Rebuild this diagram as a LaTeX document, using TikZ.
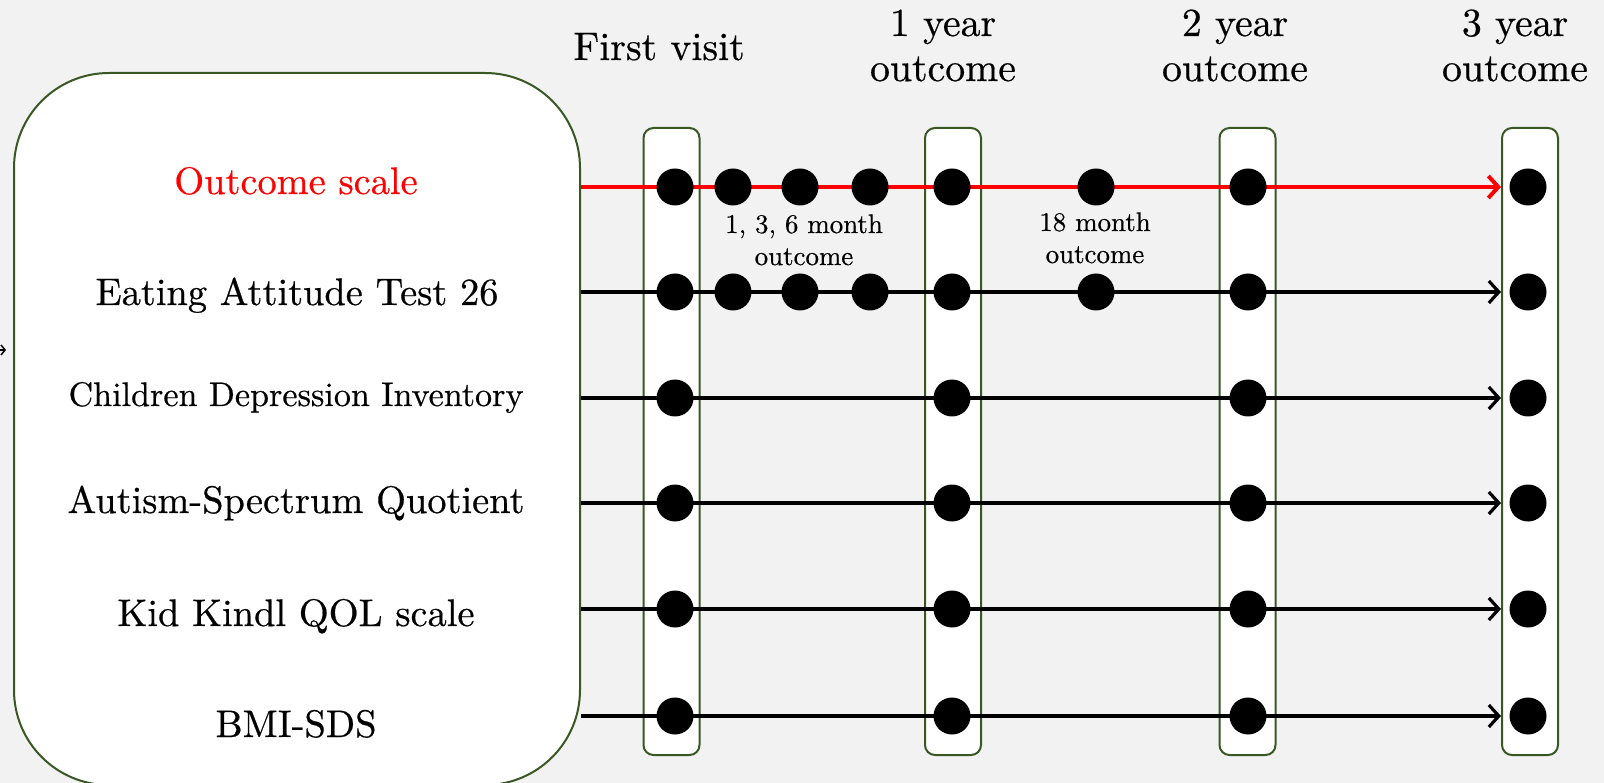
\documentclass[tikz,border=0pt]{standalone}
\usepackage{fontspec}
\setmainfont{lmroman10-regular.otf}[FakeBold=0.5]
\usetikzlibrary{arrows.meta}
\definecolor{bggray}{HTML}{F2F2F2}
\definecolor{boxgreen}{HTML}{385723}
\begin{document}
\begin{tikzpicture}[x=1pt,y=-1pt,
  bigbox/.style={draw=boxgreen,line width=2pt,fill=white,rounded corners=95pt,inner sep=0pt},
  colbox/.style={draw=boxgreen,line width=2pt,fill=white,rounded corners=10pt,inner sep=0pt,minimum width=56pt,minimum height=627pt},
  dot/.style={circle,fill=black,inner sep=0pt,minimum size=37pt},
  conn/.style={line width=3.2pt,-{Straight Barb[length=10pt,width=22pt]}},
  redconn/.style={line width=4pt,red,-{Straight Barb[length=10pt,width=22pt]}},
  scaletext/.style={anchor=base,font=\fontsize{38.4}{44}\selectfont},
  headtext/.style={anchor=base,align=center,font=\fontsize{39.8}{45}\selectfont},
  smalltext/.style={anchor=base,align=center,font=\fontsize{26.9}{32}\selectfont}
]
\useasboundingbox (0,0) rectangle (1604,783);
\fill[bggray] (0,0) rectangle (1604,783);

% left arrow fragment
\coordinate (la) at (-20,350);
\coordinate (lb) at (6,350);
\draw[line width=1.5pt,-{Straight Barb[length=4pt,width=10pt]}] (la) -- (lb);

% big box
\node[bigbox,minimum width=566pt,minimum height=712pt,anchor=north west] (scales) at (13,72) {};

% columns
\node[colbox] (c1) at (671.5,441.5) {};
\node[colbox] (c2) at (953,441.5) {};
\node[colbox] (c3) at (1247.5,441.5) {};
\node[colbox] (c4) at (1530,441.5) {};

% rows
\coordinate (r1) at (0,187);
\coordinate (r2) at (0,292);
\coordinate (r3) at (0,398);
\coordinate (r4) at (0,503);
\coordinate (r5) at (0,609);
\coordinate (r6) at (0,716);

% connectors
\draw[redconn] (scales.east |- r1) -- (c4.west |- r1);
\foreach \r in {r2,r3,r4,r5,r6}{
  \draw[conn] (scales.east |- \r) -- (c4.west |- \r);
}

% dots
\foreach \r [count=\i] in {r1,r2,r3,r4,r5,r6}{
  \node[dot] (d1\i) at (675,0 |- \r) {};
  \node[dot] (d2\i) at (952,0 |- \r) {};
  \node[dot] (d3\i) at (1248,0 |- \r) {};
  \node[dot] (d4\i) at (1528,0 |- \r) {};
}
\foreach \r [count=\i] in {r1,r2}{
  \node[dot] (m1\i) at (733,0 |- \r) {};
  \node[dot] (m3\i) at (800,0 |- \r) {};
  \node[dot] (m6\i) at (870,0 |- \r) {};
  \node[dot] (m18\i) at (1096,0 |- \r) {};
}

% scale texts
\node[scaletext,text=red] (t1) at (296,194) {Outcome scale};
\node[scaletext] (t2) at (297,305) {Eating Attitude Test 26};
\node[scaletext,font=\fontsize{34.1}{40}\selectfont] (t3) at (296,406) {Children Depression Inventory};
\node[scaletext] (t4) at (296,513) {Autism-Spectrum Quotient};
\node[scaletext] (t5) at (296,626) {Kid Kindl QOL scale};
\node[scaletext] (t6) at (296,737) {BMI-SDS};

% headers
\node[headtext] (h1) at (659,60) {First visit};
\node[headtext] (h2) at (943,81) {1 year\\outcome};
\node[headtext] (h3) at (1235,81) {2 year\\outcome};
\node[headtext] (h4) at (1515,81) {3 year\\outcome};

% interval labels
\node[smalltext] (l1) at (804,265) {1, 3, 6 month\\outcome};
\node[smalltext] (l2) at (1095,263) {18 month\\outcome};
\end{tikzpicture}
\end{document}
